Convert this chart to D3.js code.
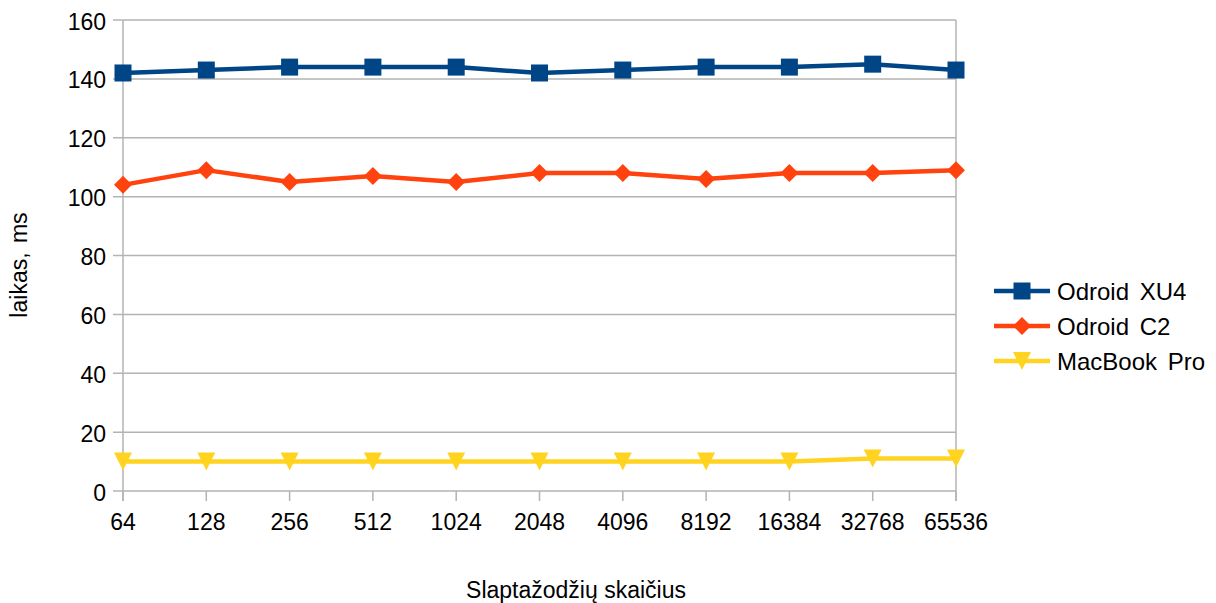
<!DOCTYPE html>
<html>
<head>
<meta charset="utf-8">
<script src="https://cdn.jsdelivr.net/npm/d3@7"></script>
<style>
  html, body { margin: 0; padding: 0; background: #fff; }
  svg { display: block; font-family: "Liberation Sans", Arial, sans-serif; }
</style>
</head>
<body>
<svg id="chart" width="1216" height="603"></svg>
<script>
// Password counts on the x axis
const categories = ["64", "128", "256", "512", "1024", "2048", "4096", "8192", "16384", "32768", "65536"];
// Time in ms per device
const odroidXU4 = [142, 143, 144, 144, 144, 142, 143, 144, 144, 145, 143];
const odroidC2 = [104, 109, 105, 107, 105, 108, 108, 106, 108, 108, 109];
const macBookPro = [10, 10, 10, 10, 10, 10, 10, 10, 10, 11, 11];
const yTicks = [0, 20, 40, 60, 80, 100, 120, 140, 160];

const series = [
  { name: "Odroid XU4", values: odroidXU4, color: "#004586", symbol: "square" },
  { name: "Odroid C2", values: odroidC2, color: "#ff420e", symbol: "diamond" },
  { name: "MacBook Pro", values: macBookPro, color: "#ffd320", symbol: "triangle" }
];

const svg = d3.select("#chart");
const plot = { left: 123, right: 956, top: 20, bottom: 491 };

const x = d3.scalePoint().domain(categories).range([plot.left, plot.right]);
const y = d3.scaleLinear().domain([0, 160]).range([plot.bottom, plot.top]);

const gridColor = "#b3b3b3";

// Horizontal gridlines
svg.append("g").selectAll("line").data(yTicks).join("line")
  .attr("x1", plot.left - 10).attr("x2", plot.right)
  .attr("y1", d => y(d)).attr("y2", d => y(d))
  .attr("stroke", gridColor).attr("stroke-width", 1.5);

// Left axis line and right edge of plot area
svg.append("line").attr("x1", plot.left).attr("x2", plot.left).attr("y1", plot.top).attr("y2", plot.bottom + 10)
  .attr("stroke", gridColor).attr("stroke-width", 1.5);
svg.append("line").attr("x1", plot.right).attr("x2", plot.right).attr("y1", plot.top).attr("y2", plot.bottom + 10)
  .attr("stroke", gridColor).attr("stroke-width", 1.5);

// X tick marks
svg.append("g").selectAll("line").data(categories).join("line")
  .attr("x1", d => x(d)).attr("x2", d => x(d))
  .attr("y1", plot.bottom).attr("y2", plot.bottom + 10)
  .attr("stroke", gridColor).attr("stroke-width", 1.5);

// Y tick labels
svg.append("g").selectAll("text").data(yTicks).join("text")
  .attr("x", 106).attr("y", d => y(d) + 9.5)
  .attr("text-anchor", "end")
  .attr("font-size", 23).attr("fill", "#000")
  .text(d => d);

// X tick labels
svg.append("g").selectAll("text").data(categories).join("text")
  .attr("x", d => x(d)).attr("y", 530)
  .attr("text-anchor", "middle")
  .attr("font-size", 23).attr("fill", "#000")
  .text(d => d);

// Axis titles
svg.append("text")
  .attr("transform", `translate(27, 265) rotate(-90)`)
  .attr("text-anchor", "middle").attr("font-size", 23).attr("word-spacing", 3)
  .text("laikas, ms");
svg.append("text")
  .attr("x", 576).attr("y", 598)
  .attr("text-anchor", "middle").attr("font-size", 23)
  .text("Slaptažodžių skaičius");

// Marker shapes
function marker(sel, kind, color, cx, cy) {
  if (kind === "square") {
    sel.append("rect").attr("x", cx - 8.5).attr("y", cy - 8.5)
      .attr("width", 17).attr("height", 17).attr("fill", color);
  } else if (kind === "diamond") {
    sel.append("path").attr("d", `M${cx},${cy - 9}L${cx + 9},${cy}L${cx},${cy + 9}L${cx - 9},${cy}Z`)
      .attr("fill", color);
  } else {
    sel.append("path").attr("d", `M${cx - 9},${cy - 9}L${cx + 9},${cy - 9}L${cx},${cy + 9}Z`)
      .attr("fill", color);
  }
}

const line = d3.line().x((d, i) => x(categories[i])).y(d => y(d));

series.forEach(s => {
  const g = svg.append("g");
  g.append("path").datum(s.values)
    .attr("d", line).attr("fill", "none")
    .attr("stroke", s.color).attr("stroke-width", 4.5)
    .attr("stroke-linejoin", "round");
  s.values.forEach((v, i) => marker(g, s.symbol, s.color, x(categories[i]), y(v)));
});

// Legend
const legendY = [291, 326, 361];
series.forEach((s, i) => {
  const g = svg.append("g");
  const ly = legendY[i];
  g.append("line").attr("x1", 994).attr("x2", 1050).attr("y1", ly).attr("y2", ly)
    .attr("stroke", s.color).attr("stroke-width", 4.5);
  marker(g, s.symbol, s.color, 1022, ly);
  g.append("text").attr("x", 1057).attr("y", ly + 9)
    .attr("font-size", 24).attr("word-spacing", 4)
    .text(s.name);
});
</script>
</body>
</html>
